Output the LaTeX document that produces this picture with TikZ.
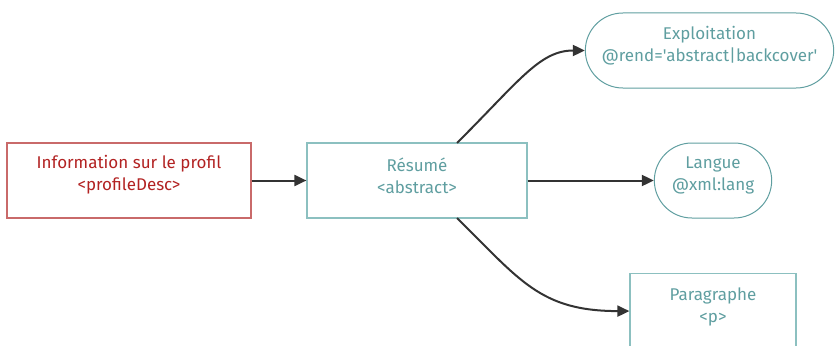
\documentclass[tikz,border=0pt]{standalone}
\usepackage{fontspec}
\setmainfont{Fira Sans}[Ligatures=TeXOff]
\usetikzlibrary{arrows.meta,shapes.misc}
\definecolor{teal1}{HTML}{5F9EA0}
\definecolor{tealb}{HTML}{8CC0C0}
\definecolor{redt}{HTML}{B22222}
\definecolor{redb}{HTML}{C96A6A}
\definecolor{arr}{HTML}{333333}
\begin{document}
\begin{tikzpicture}[x=1pt,y=-1pt,
  txt/.style={font=\fontsize{17}{22}\selectfont, align=center, inner sep=0pt},
  rbox/.style={draw=redb, line width=1.2pt, minimum width=244pt, minimum height=75pt},
  tbox/.style={draw=tealb, line width=1.2pt},
  pill/.style={draw=teal1, line width=1pt, rounded rectangle},
  conn/.style={draw=arr, line width=2pt, -{Triangle[length=12pt,width=11pt]}}]
\useasboundingbox (0,0) rectangle (837,345);
\node[rbox] (prof) at (129,180.5) {};
\node[txt, text=redt] (proft) at (129,175) {Information sur le profil\\<profileDesc>};
\node[tbox, minimum width=220pt, minimum height=75pt] (res) at (417,180.5) {};
\node[txt, text=teal1] (rest) at (417,175.5) {Résumé\\<abstract>};
\node[pill, minimum width=255pt, minimum height=75pt] (exp) at (709.5,50.5) {};
\node[txt, text=teal1] (expt) at (709.5,46) {Exploitation\\@rend='abstract|backcover'};
\node[pill, minimum width=124pt, minimum height=75pt] (lang) at (713,180.5) {};
\node[txt, text=teal1] (langt) at (713,175) {Langue\\@xml:lang};
\node[tbox, minimum width=166pt, minimum height=75pt, anchor=north] (par) at (713,273) {};
\node[txt, text=teal1] (part) at (713,307) {Paragraphe\\<p>};
\coordinate (r1) at (457,143);
\coordinate (r2) at (457,218);
\draw[conn] (prof.east) -- (res.west);
\draw[conn] (res.east) -- (lang.west);
\draw[conn] (r1) .. controls (520,80) and (540,50.5) .. (exp.west);
\draw[conn] (r2) .. controls (520,280) and (540,311) .. (par.west);
\end{tikzpicture}
\end{document}
